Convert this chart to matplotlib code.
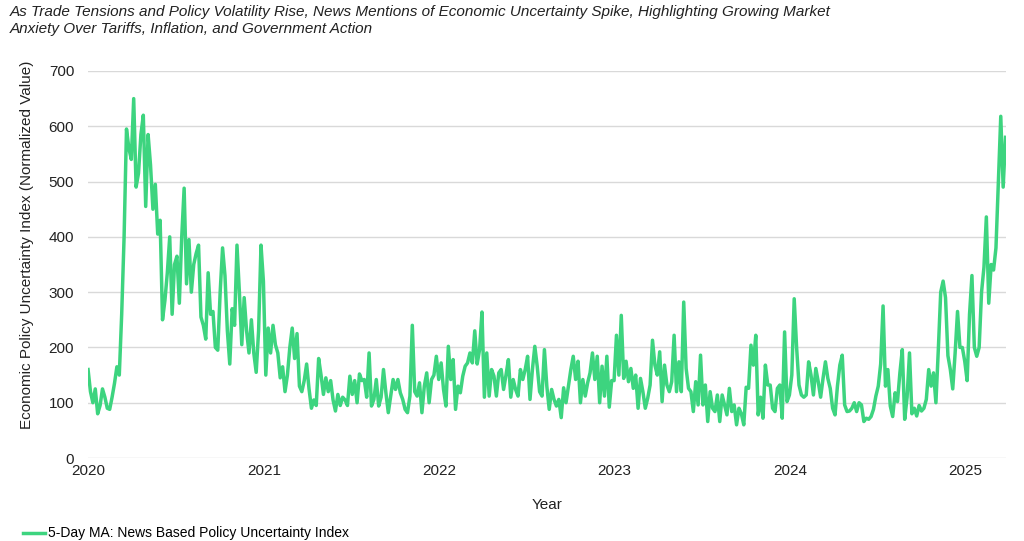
import matplotlib
matplotlib.use("Agg")
import matplotlib.pyplot as plt
import matplotlib.dates as mdates
import numpy as np
import pandas as pd

plt.rcParams['font.family'] = ['Liberation Sans', 'DejaVu Sans']

# 5-day sampled readings of the news based policy uncertainty index (5-day MA)
start_date = "2020-01-01"
step_days = 5

vals_2020 = [160, 120, 100, 125, 80, 95, 125, 110, 90, 88, 110, 135, 165, 150, 260, 400,
             595, 560, 540, 650, 490, 515, 585, 620, 455, 585, 530, 450, 495, 405, 430, 250,
             285, 335, 400, 260, 350, 365, 280, 400, 488, 315, 395, 300, 350, 370, 385, 255,
             240, 215, 335, 260, 265, 200, 195, 300, 380, 330, 230, 170, 270, 240, 385, 300,
             205, 290, 230, 190, 250, 190, 155, 230, 385]
vals_2021 = [320, 150, 235, 190, 240, 205, 190, 145, 165, 120, 150, 200, 235, 180, 225, 130,
             120, 140, 170, 125, 90, 105, 95, 180, 150, 115, 145, 120, 140, 105, 85, 115,
             95, 110, 105, 95, 148, 115, 140, 100, 152, 140, 142, 110, 190, 94, 106, 142,
             94, 110, 160, 118, 82, 112, 142, 124, 142, 118, 106, 88, 82, 112, 240, 120,
             112, 136, 82, 130, 154, 100, 142, 150, 184]
vals_2022 = [142, 172, 124, 94, 202, 142, 178, 88, 130, 118, 148, 166, 172, 190, 172, 230,
             170, 196, 264, 110, 190, 112, 160, 148, 112, 154, 160, 124, 150, 178, 110, 142,
             124, 112, 160, 142, 160, 184, 106, 160, 202, 166, 120, 112, 196, 130, 88, 124,
             106, 94, 106, 73, 127, 100, 130, 160, 184, 142, 175, 100, 142, 112, 136, 154,
             190, 142, 184, 100, 166, 112, 184, 92, 140]
vals_2023 = [140, 222, 150, 258, 144, 175, 138, 162, 126, 150, 90, 144, 120, 90, 108, 132,
             213, 168, 150, 192, 102, 168, 132, 120, 138, 222, 120, 174, 120, 282, 162, 126,
             120, 84, 138, 96, 186, 96, 132, 66, 120, 90, 84, 114, 66, 114, 96, 78,
             126, 84, 96, 60, 90, 80, 60, 128, 126, 204, 168, 222, 78, 110, 72, 168,
             132, 132, 90, 84, 126, 132, 72, 228, 102]
vals_2024 = [114, 150, 288, 200, 132, 114, 110, 114, 174, 150, 114, 162, 138, 110, 144, 174,
             144, 126, 90, 78, 130, 168, 186, 96, 84, 85, 90, 100, 84, 100, 96, 66,
             72, 70, 75, 88, 112, 130, 170, 275, 130, 160, 94, 75, 118, 102, 154, 196,
             70, 110, 190, 80, 90, 76, 95, 85, 90, 106, 160, 130, 154, 100, 196, 300,
             320, 290, 185, 160, 125, 190, 265, 200, 200]
vals_2025 = [175, 140, 260, 330, 200, 184, 200, 300, 345, 436, 280, 350, 340, 380, 500, 618,
             490, 580]

values = np.array(vals_2020 + vals_2021 + vals_2022 + vals_2023 + vals_2024 + vals_2025)
dates = pd.date_range(start_date, periods=len(values), freq=f"{step_days}D")

subtitle = ("As Trade Tensions and Policy Volatility Rise, News Mentions of Economic Uncertainty Spike, Highlighting Growing Market\n"
            "Anxiety Over Tariffs, Inflation, and Government Action")

fig = plt.figure(figsize=(10.24, 5.41), dpi=100)
ax = fig.add_axes([0.086, 0.1534, 0.896, 0.7154])

line, = ax.plot(dates, values, color="#3dd47f", linewidth=2.5,
                label="5-Day MA: News Based Policy Uncertainty Index")

ax.set_ylim(0, 700)
ax.set_yticks(np.arange(0, 701, 100))
ax.set_xlim(pd.Timestamp("2020-01-01"), dates[-1])
ax.xaxis.set_major_locator(mdates.YearLocator())
ax.xaxis.set_major_formatter(mdates.DateFormatter("%Y"))

ax.grid(axis="y", color="#d9d9d9", linewidth=1)
ax.set_axisbelow(True)
for s in ax.spines.values():
    s.set_visible(False)
ax.tick_params(axis="both", length=0, labelsize=11, colors="#222222")
ax.tick_params(axis="x", pad=4)
ax.tick_params(axis="y", pad=10)

ax.set_xlabel("Year", fontsize=11, labelpad=15, color="#222222")
ax.set_ylabel("Economic Policy Uncertainty Index (Normalized Value)", fontsize=11,
              color="#222222")
ax.yaxis.set_label_coords(-0.059, 0.55)

fig.text(0.01, 0.99, subtitle, fontsize=11, style="italic", va="top", ha="left",
         color="#222222", linespacing=1.25)

fig.legend(handles=[line], loc="lower left", bbox_to_anchor=(0.01, -0.022), frameon=False,
           fontsize=10, handlelength=1.6, handletextpad=0.2)

fig.savefig("out.png", dpi=100)
